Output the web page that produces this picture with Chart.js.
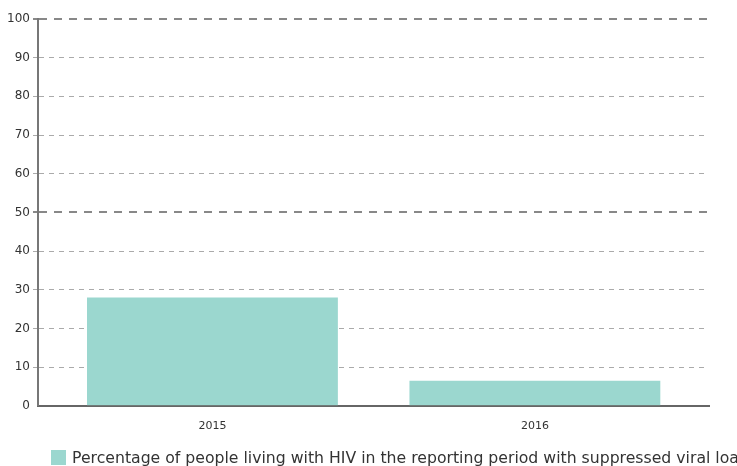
<!DOCTYPE html>
<html lang="en">
<head>
<meta charset="UTF-8">
<title>Suppressed viral load</title>
<script src="https://cdn.jsdelivr.net/npm/chart.js"></script>
<style>
  body { margin: 0; background: #fff; font-family: "DejaVu Sans", sans-serif; }
  #wrap { position: relative; width: 737px; height: 466px; overflow: hidden; }
  #box { position: absolute; left: 0; top: 0; width: 737px; height: 451px; }
  #legend { position: absolute; left: 51px; top: 448px; white-space: nowrap; font-size: 15.7px; color: #333; }
  #legend span.sw { display: inline-block; width: 15px; height: 15px; vertical-align: -2px; margin-right: 6px; }
</style>
</head>
<body>
<div id="wrap">
  <div id="box"><canvas id="chart"></canvas></div>
  <div id="legend"></div>
</div>
<script>
// data
var years = ['2015', '2016'];
var suppressed = [28, 6.5];
var seriesName = 'Percentage of people living with HIV in the reporting period with suppressed viral load';
var barColor = '#9bd7cf';

// legend (html, under the canvas)
document.getElementById('legend').innerHTML =
  '<span class="sw" style="background:' + barColor + '"></span>' + seriesName;

var ctx = document.getElementById('chart').getContext('2d');
var chart = new Chart(ctx, {
  type: 'bar',
  data: {
    datasets: [{
      label: seriesName,
      data: years.map(function (y, i) { return { x: i, y: suppressed[i] }; }),
      backgroundColor: barColor,
      borderWidth: 0,
      categoryPercentage: 1,
      barPercentage: 0.778
    }]
  },
  options: {
    responsive: true,
    maintainAspectRatio: false,
    animation: false,
    layout: { padding: { top: 19, right: 28, bottom: 4, left: 0 } },
    plugins: {
      legend: { display: false },
      tooltip: { enabled: false }
    },
    scales: {
      x: {
        type: 'linear',
        offset: false,
        min: -0.541,
        max: 1.54,
        afterBuildTicks: function (scale) {
          scale.ticks = years.map(function (y, i) { return { value: i }; });
        },
        grid: { display: false, drawTicks: false },
        border: { color: '#666', width: 2 },
        ticks: {
          padding: 14,
          color: '#333',
          font: { family: 'DejaVu Sans', size: 11 },
          callback: function (v) { return years[v]; }
        }
      },
      y: {
        min: 0,
        max: 100,
        afterFit: function (scale) { scale.width = 38; },
        ticks: {
          stepSize: 10,
          padding: 3,
          color: '#333',
          font: { family: 'DejaVu Sans', size: 12 }
        },
        border: {
          color: '#777',
          width: 2,
          dash: function (c) {
            if (!c.tick) return [];
            return (c.tick.value === 100 || c.tick.value === 50) ? [8, 7] : [5, 5];
          }
        },
        grid: {
          tickLength: 5,
          color: function (c) {
            if (!c.tick) return '#aaa';
            if (c.tick.value === 0) return 'rgba(0,0,0,0)';
            return (c.tick.value === 100 || c.tick.value === 50) ? '#888' : '#aaa';
          },
          lineWidth: function (c) {
            if (!c.tick) return 1;
            return (c.tick.value === 100 || c.tick.value === 50) ? 2 : 1;
          }
        }
      }
    }
  }
});
</script>
</body>
</html>
